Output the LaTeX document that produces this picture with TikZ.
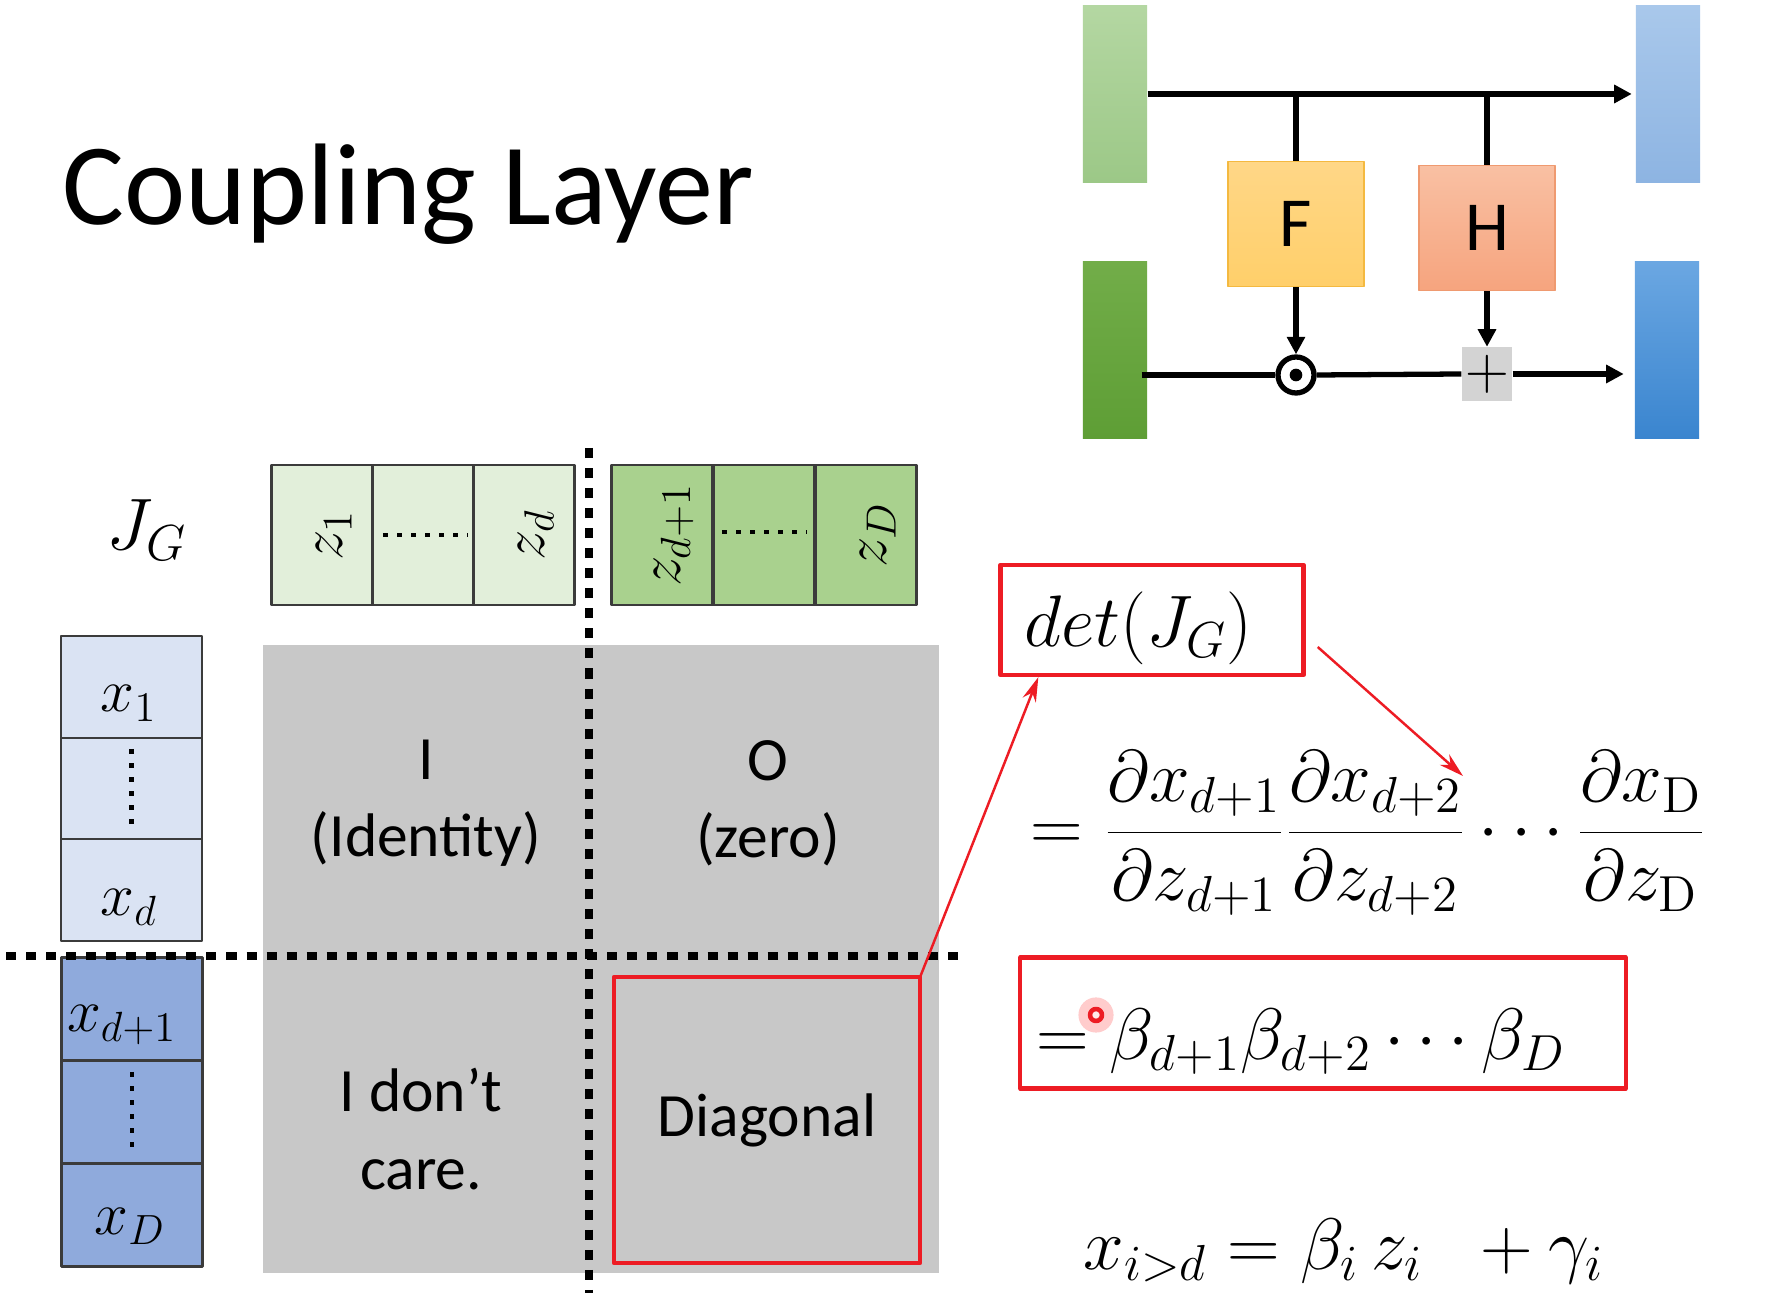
\documentclass[tikz,border=0pt]{standalone}
\usepackage[no-math]{fontspec}
\setmainfont{Carlito}
\usetikzlibrary{arrows.meta,positioning}
\definecolor{redbox}{HTML}{ED1C24}
\definecolor{cellline}{HTML}{3B3B3B}
\definecolor{zlight}{HTML}{E2EFDA}
\definecolor{zdark}{HTML}{A9D18E}
\definecolor{xlight}{HTML}{DAE3F3}
\definecolor{xdark}{HTML}{8FAADC}
\definecolor{matgray}{HTML}{C8C8C8}
\definecolor{plusgray}{HTML}{D3D3D3}

\begin{document}
\begin{tikzpicture}[x=0.01cm,y=-0.01cm,line join=round,>={Triangle[length=5pt,width=5pt]},
  bar/.style={minimum width=0.64cm,minimum height=1.77cm,inner sep=0},
  fbox/.style={minimum width=1.36cm,minimum height=1.25cm,inner sep=0,font=\fontsize{20}{24}\selectfont},
  flow/.style={line width=1.5pt},
  cell/.style={draw=cellline,line width=0.8pt,minimum width=1.01cm,minimum height=1.4cm,inner sep=0},
  xcell/.style={draw=cellline,line width=0.8pt,minimum width=1.41cm,minimum height=1.02cm,inner sep=0},
  lab/.style={font=\fontsize{18}{20}\selectfont,inner sep=0},
  splitline/.style={line width=2.3pt,dash pattern=on 2.85pt off 2.85pt},
  smalldots/.style={line width=1.4pt,dash pattern=on 1.4pt off 2.6pt},
  block/.style={font=\fontsize{17.5}{22}\selectfont,align=center},
  hl/.style={draw=redbox,line width=1.2pt,inner sep=0},
  pointer/.style={draw=redbox,line width=0.7pt,-{Stealth[length=7pt,width=4pt]}},
  eq/.style={font=\fontsize{21}{25}\selectfont,inner sep=0}]
\fill[white] (0,0) rectangle (1778,1301);
\node[anchor=base west,inner sep=0,font=\fontsize{33}{40}\selectfont] (title) at (62,225) {Coupling Layer};

\node[bar,top color={rgb,255:red,180;green,215;blue,162},bottom color={rgb,255:red,156;green,200;blue,135}] (ztop) at (1115,94) {};
\node[bar,top color={rgb,255:red,114;green,173;blue,73},bottom color={rgb,255:red,94;green,158;blue,53}] (zbot) at (1115,350) {};
\node[bar,top color={rgb,255:red,169;green,200;blue,235},bottom color={rgb,255:red,141;green,180;blue,226}] (xtop) at (1668,94) {};
\node[bar,top color={rgb,255:red,107;green,167;blue,226},bottom color={rgb,255:red,58;green,133;blue,207}] (xbot) at (1667,350) {};
\node[fbox,top color={rgb,255:red,255;green,215;blue,135},bottom color={rgb,255:red,255;green,207;blue,106},draw={rgb,255:red,244;green,185;blue,64}] (F) at (1296,224) {F};
\node[fbox,top color={rgb,255:red,249;green,192;blue,163},bottom color={rgb,255:red,246;green,164;blue,126},draw={rgb,255:red,239;green,154;blue,112}] (H) at (1487,228) {H};
\node[minimum width=0.5cm,minimum height=0.53cm,inner sep=0,fill=plusgray,font=\fontsize{16}{16}\selectfont] (add) at (1487,374) {$+$};
\node[circle,draw,line width=1.5pt,fill=white,minimum size=0.36cm,inner sep=0] (mul) at (1296,375) {};
\fill (mul) circle (1.8pt);

\draw[flow,->,shorten >=1pt] (ztop.east) -- (xtop.west);
\draw[flow] (F.north) -- (F.north |- ztop.east);
\draw[flow] (H.north) -- (H.north |- ztop.east);
\draw[flow,->] (F.south) -- (mul.north);
\draw[flow,->] (H.south) -- (add.north);
\draw[flow] ([xshift=-0.06cm]zbot.east |- mul.west) -- (mul.west);
\draw[flow] (mul.east) -- (add.west);
\draw[flow,->,shorten >=3pt] (add.east) -- (xbot.west |- add.east);

\node[inner sep=0,font=\fontsize{21}{24}\selectfont] (jg) at (147,530) {$J_G$};
\foreach \n/\cx in {z1/322,zdots/423,zd/524}
  {\node[cell,fill=zlight] (\n) at (\cx,535) {};}
\foreach \n/\cx in {zd1/662,zdots2/764,zD/866}
  {\node[cell,fill=zdark] (\n) at (\cx,535) {};}
\foreach \c/\t in {z1/z_1,zd/z_d,zd1/z_{d+1},zD/z_D}
  {\node[lab] (l\c) at ([xshift=0.12cm]\c) {\rotatebox{90}{$\t$}};}
\draw[smalldots] ([xshift=-0.4cm]zdots.center) -- ([xshift=0.45cm]zdots.center);
\draw[smalldots] ([xshift=-0.42cm,yshift=0.03cm]zdots2.center) -- ([xshift=0.43cm,yshift=0.03cm]zdots2.center);

\foreach \n/\cy in {x1/687,xdots/789,xd/890}
  {\node[xcell,fill=xlight] (\n) at (131.5,\cy) {};}
\foreach \n/\cy in {xd1/1009,xdots2/1112,xD/1215}
  {\node[xcell,fill=xdark,minimum height=1.03cm] (\n) at (132,\cy) {};}
\foreach \n/\lx/\ly/\t in {x1/129/712/x_1,xd/129/916/x_d,xd1/122/1032/x_{d+1},xD/130/1235/x_D}
  {\node[lab,anchor=base] (l\n) at (\lx,\ly) {$\t$};}
\draw[smalldots] ([yshift=0.4cm]xdots.center) -- ([yshift=-0.44cm]xdots.center);
\draw[smalldots] ([yshift=0.4cm]xdots2.center) -- ([yshift=-0.44cm]xdots2.center);

\fill[matgray] (263,645) rectangle (939,1273);
\node[block] (ident) at (426,803) {I\\(Identity)};
\node[block] (zero) at (768,803) {O\\(zero)};
\node[block] (dontcare) at (421,1129) {I don't\\care.};
\node[hl,block,minimum width=3.06cm,minimum height=2.86cm] (diag) at (767,1120) {Diagonal};

\draw[splitline] (589,448) -- (589,1293);
\draw[splitline] (6,956) -- (958,956);

\node[hl,minimum width=3.03cm,minimum height=1.1cm] (detbox) at (1152,620) {};
\node[anchor=base west,inner sep=0,font=\fontsize{22}{26}\selectfont] (det) at (1024,647) {$det(J_G)$};
\node[eq,anchor=west,font=\fontsize{21.6}{26}\selectfont] (frac) at (1030,833) {$\displaystyle=\frac{\partial x_{d+1}}{\partial z_{d+1}}\frac{\partial x_{d+2}}{\partial z_{d+2}}\cdots\frac{\partial x_{\mathrm{D}}}{\partial z_{\mathrm{D}}}$};
\node[hl,minimum width=6.05cm,minimum height=1.31cm] (betabox) at (1323,1023) {};
\node[eq,anchor=base west] (beta) at (1036,1060) {$=\beta_{d+1}\beta_{d+2}\cdots\beta_D$};
\fill[red!20] (1096,1015) circle (5pt);
\draw[redbox,line width=1.3pt,fill=red!8] (1096,1015) circle (1.7pt);
\node[eq,anchor=base west] (coupling) at (1083,1270) {$x_{i>d}=\beta_i\,z_i\;\;+\gamma_i$};

\coordinate (frac2) at (1463,776);
\draw[pointer] ([shift={(-0.02cm,-0.02cm)}]diag.north east) -- ([xshift=0.4cm]detbox.south west);
\draw[pointer] ([shift={(0.12cm,-0.27cm)}]detbox.east) -- (frac2);
\end{tikzpicture}
\end{document}
